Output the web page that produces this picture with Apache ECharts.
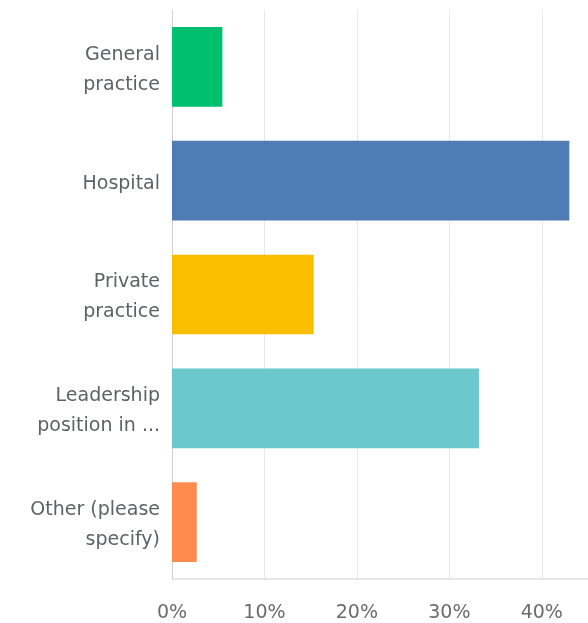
<!DOCTYPE html>
<html><head><meta charset="utf-8">
<script src="https://cdn.jsdelivr.net/npm/echarts@6/dist/echarts.min.js"></script>
<style>html,body{margin:0;padding:0;background:#fff}#c{width:588px;height:623px}</style>
</head><body><div id="c"></div>
<script>
const categories = ["General\npractice", "Hospital", "Private\npractice", "Leadership\nposition in ...", "Other (please\nspecify)"];
const values = [5.45, 42.98, 15.33, 33.2, 2.68];
const colors = ["#00BF6F", "#507CB6", "#F9BE00", "#6BC8CD", "#FF8B4F"];
const tickValues = [0, 10, 20, 30, 40];

const chart = echarts.init(document.getElementById('c'), null, {renderer: 'canvas'});
chart.setOption({
  animation: false,
  grid: {left: 172, right: 0, top: 10, bottom: 44, containLabel: false},
  xAxis: {
    type: 'value', min: 0, max: 45, interval: 10,
    axisLine: {show: false}, axisTick: {show: false},
    splitLine: {show: true, lineStyle: {color: '#e8e8e8', width: 1}},
    axisLabel: {
      margin: 25, color: '#6b6b6b', fontSize: 19, fontFamily: 'DejaVu Sans',
      showMaxLabel: false,
      formatter: v => tickValues.includes(v) ? v + '%' : ''
    }
  },
  yAxis: {
    type: 'category', data: categories, inverse: true,
    axisLine: {show: true, lineStyle: {color: '#d0d0d0'}},
    axisTick: {show: false},
    axisLabel: {
      margin: 12, color: '#5e6266', fontSize: 19, lineHeight: 30, fontFamily: 'DejaVu Sans', align: 'right',
      formatter: v => '{s|}\n' + v,
      rich: {s: {lineHeight: 6, fontSize: 1}}
    }
  },
  series: [{
    type: 'bar', barCategoryGap: '30%',
    data: values.map((v, i) => ({value: v, itemStyle: {color: colors[i]}}))
  }]
});
const rect = chart.getModel().getComponent('grid').coordinateSystem.getRect();
chart.setOption({graphic: [{type: 'line', shape: {x1: rect.x, y1: rect.y + rect.height, x2: rect.x + rect.width, y2: rect.y + rect.height}, style: {stroke: '#d0d0d0', lineWidth: 1}, z: 10}]});
</script></body></html>
